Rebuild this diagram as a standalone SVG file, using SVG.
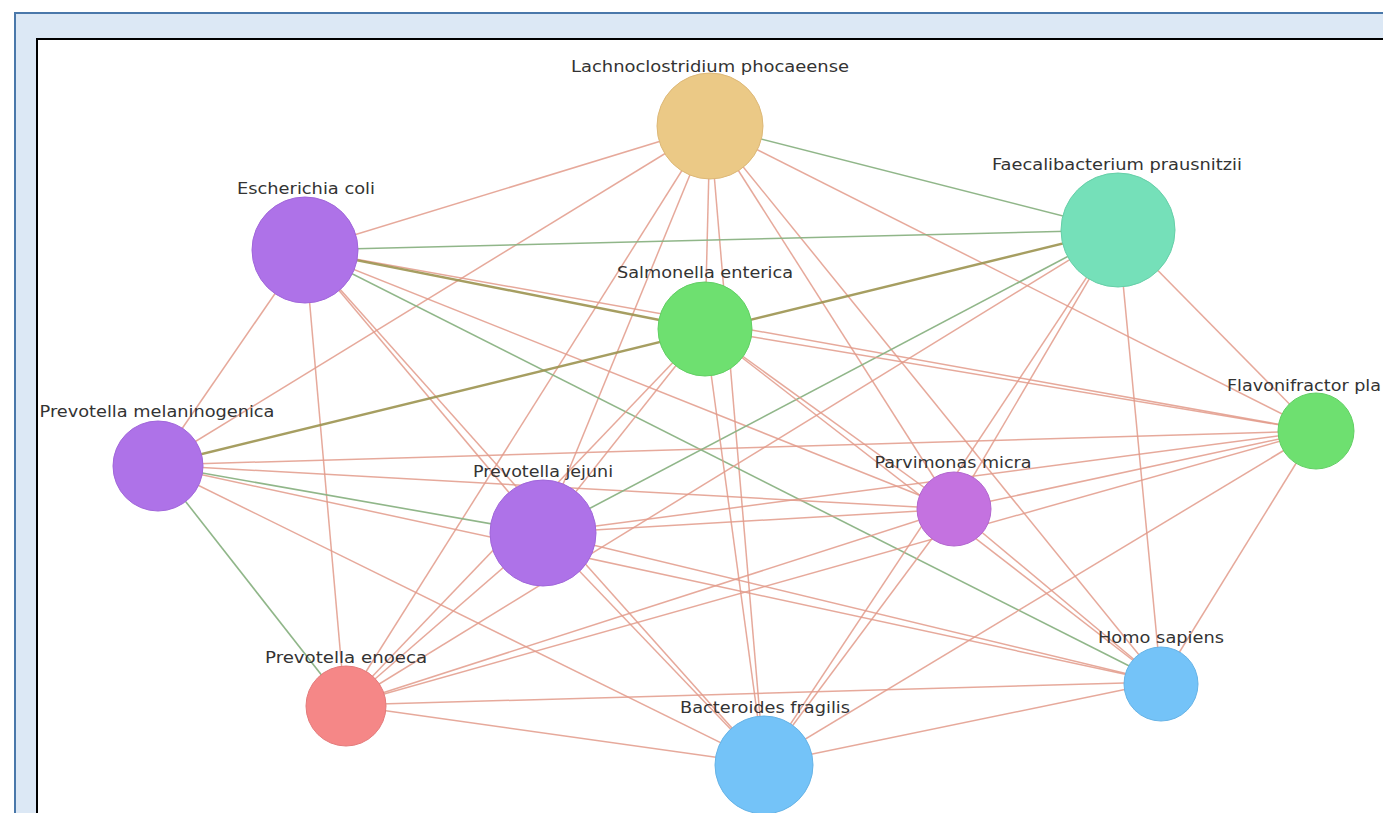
<svg xmlns="http://www.w3.org/2000/svg" width="1383" height="813" viewBox="0 0 1383 813">
  <style>
    .frame { fill: #DCE8F5; stroke: #4A78AA; stroke-width: 2; }
    .panel { fill: #FFFFFF; stroke: #000000; stroke-width: 2; }
    .e { stroke: #E29A8A; stroke-width: 1.5; stroke-opacity: 0.85; fill: none; }
    .g { stroke: #8AB283; stroke-width: 1.6; stroke-opacity: 0.95; fill: none; }
    .o { stroke: #9C9450; stroke-width: 2.4; stroke-opacity: 0.9; fill: none; }
    .lbl { font-family: "DejaVu Sans", Verdana, sans-serif; font-size: 16px; fill: #333333; text-anchor: middle; }
    .purple { fill: #AE72E8; stroke: #A066DA; stroke-width: 1; }
    .green { fill: #6EE070; stroke: #62CF64; stroke-width: 1; }
    .blue { fill: #74C3F8; stroke: #66B3E6; stroke-width: 1; }
  </style>

  <!-- outer frame and drawing panel -->
  <rect class="frame" x="15" y="13" width="1400" height="850"/>
  <rect class="panel" x="37" y="39" width="1380" height="820"/>

  <!-- connectors: straight edges between node centres -->
  <g id="edges">
    <!-- Lachnoclostridium phocaeense -->
    <line class="e" x1="710" y1="126" x2="305" y2="250"/>
    <line class="e" x1="710" y1="126" x2="157" y2="465"/>
    <line class="e" x1="710" y1="126" x2="345" y2="705"/>
    <line class="e" x1="710" y1="126" x2="543" y2="533"/>
    <line class="e" x1="710" y1="126" x2="705" y2="329"/>
    <line class="e" x1="710" y1="126" x2="764" y2="764"/>
    <line class="e" x1="710" y1="126" x2="954" y2="509"/>
    <line class="e" x1="710" y1="126" x2="1161" y2="682"/>
    <line class="e" x1="710" y1="126" x2="1316" y2="431"/>
    <line class="g" x1="710" y1="126" x2="1118" y2="230"/>
    <!-- Escherichia coli -->
    <line class="g" x1="305" y1="250" x2="1118" y2="230"/>
    <line class="e" x1="305" y1="250" x2="1316" y2="431"/>
    <line class="o" x1="305" y1="250" x2="705" y2="329"/>
    <line class="g" x1="305" y1="250" x2="1161" y2="682"/>
    <line class="e" x1="305" y1="250" x2="954" y2="509"/>
    <line class="e" x1="305" y1="250" x2="543" y2="533"/>
    <line class="e" x1="305" y1="250" x2="345" y2="705"/>
    <line class="e" x1="305" y1="250" x2="157" y2="465"/>
    <line class="e" x1="305" y1="250" x2="764" y2="764"/>
    <!-- Prevotella melaninogenica -->
    <line class="o" x1="157" y1="465" x2="1118" y2="230"/>
    <line class="e" x1="157" y1="465" x2="1316" y2="431"/>
    <line class="e" x1="157" y1="465" x2="954" y2="509"/>
    <line class="g" x1="157" y1="465" x2="543" y2="533"/>
    <line class="e" x1="157" y1="465" x2="1161" y2="682"/>
    <line class="e" x1="157" y1="465" x2="764" y2="764"/>
    <line class="g" x1="157" y1="465" x2="345" y2="705"/>
    <!-- Prevotella jejuni -->
    <line class="e" x1="543" y1="533" x2="705" y2="329"/>
    <line class="g" x1="543" y1="533" x2="1118" y2="230"/>
    <line class="e" x1="543" y1="533" x2="1316" y2="431"/>
    <line class="e" x1="543" y1="533" x2="954" y2="509"/>
    <line class="e" x1="543" y1="533" x2="1161" y2="682"/>
    <line class="e" x1="543" y1="533" x2="764" y2="764"/>
    <line class="e" x1="543" y1="533" x2="345" y2="705"/>
    <!-- Prevotella enoeca -->
    <line class="e" x1="345" y1="705" x2="705" y2="329"/>
    <line class="e" x1="345" y1="705" x2="1118" y2="230"/>
    <line class="e" x1="345" y1="705" x2="954" y2="509"/>
    <line class="e" x1="345" y1="705" x2="1316" y2="431"/>
    <line class="e" x1="345" y1="705" x2="1161" y2="682"/>
    <line class="e" x1="345" y1="705" x2="764" y2="764"/>
    <!-- Faecalibacterium prausnitzii -->
    <line class="e" x1="1118" y1="230" x2="954" y2="509"/>
    <line class="e" x1="1118" y1="230" x2="1161" y2="682"/>
    <line class="e" x1="1118" y1="230" x2="1316" y2="431"/>
    <line class="e" x1="1118" y1="230" x2="764" y2="764"/>
    <!-- Salmonella enterica -->
    <line class="e" x1="705" y1="329" x2="764" y2="764"/>
    <line class="e" x1="705" y1="329" x2="954" y2="509"/>
    <line class="e" x1="705" y1="329" x2="1161" y2="682"/>
    <line class="e" x1="705" y1="329" x2="1316" y2="431"/>
    <!-- Parvimonas micra -->
    <line class="e" x1="954" y1="509" x2="1161" y2="682"/>
    <line class="e" x1="954" y1="509" x2="764" y2="764"/>
    <line class="e" x1="954" y1="509" x2="1316" y2="431"/>
    <!-- remaining -->
    <line class="e" x1="1161" y1="682" x2="1316" y2="431"/>
    <line class="e" x1="764" y1="764" x2="1316" y2="431"/>
    <line class="e" x1="764" y1="764" x2="1161" y2="682"/>
  </g>

  <!-- nodes -->
  <g id="node-lachnoclostridium">
    <circle cx="710" cy="126" r="53" fill="#EBC986" stroke="#DDB877" stroke-width="1"/>
    <text class="lbl" x="710" y="72" textLength="278" lengthAdjust="spacingAndGlyphs">Lachnoclostridium phocaeense</text>
  </g>
  <g id="node-escherichia">
    <circle class="purple" cx="305" cy="250" r="53"/>
    <text class="lbl" x="306" y="194" textLength="138" lengthAdjust="spacingAndGlyphs">Escherichia coli</text>
  </g>
  <g id="node-faecalibacterium">
    <circle cx="1118" cy="230" r="57" fill="#75E0B9" stroke="#66CFA8" stroke-width="1"/>
    <text class="lbl" x="1117" y="170" textLength="250" lengthAdjust="spacingAndGlyphs">Faecalibacterium prausnitzii</text>
  </g>
  <g id="node-salmonella">
    <circle class="green" cx="705" cy="329" r="47"/>
    <text class="lbl" x="705" y="278" textLength="176" lengthAdjust="spacingAndGlyphs">Salmonella enterica</text>
  </g>
  <g id="node-flavonifractor">
    <circle class="green" cx="1316" cy="431" r="38"/>
    <text class="lbl" x="1227" y="391" style="text-anchor:start" textLength="154" lengthAdjust="spacingAndGlyphs">Flavonifractor pla</text>
  </g>
  <g id="node-prevotella-melaninogenica">
    <circle class="purple" cx="158" cy="466" r="45"/>
    <text class="lbl" x="157" y="417" textLength="235" lengthAdjust="spacingAndGlyphs">Prevotella melaninogenica</text>
  </g>
  <g id="node-prevotella-jejuni">
    <circle class="purple" cx="543" cy="533" r="53"/>
    <text class="lbl" x="543" y="477" textLength="140" lengthAdjust="spacingAndGlyphs">Prevotella jejuni</text>
  </g>
  <g id="node-parvimonas">
    <circle cx="954" cy="509" r="37" fill="#C472E0" stroke="#B266CF" stroke-width="1"/>
    <text class="lbl" x="953" y="468" textLength="157" lengthAdjust="spacingAndGlyphs">Parvimonas micra</text>
  </g>
  <g id="node-prevotella-enoeca">
    <circle cx="346" cy="706" r="40" fill="#F58787" stroke="#E47A7A" stroke-width="1"/>
    <text class="lbl" x="346" y="663" textLength="162" lengthAdjust="spacingAndGlyphs">Prevotella enoeca</text>
  </g>
  <g id="node-bacteroides">
    <circle class="blue" cx="764" cy="765" r="49"/>
    <text class="lbl" x="765" y="713" textLength="170" lengthAdjust="spacingAndGlyphs">Bacteroides fragilis</text>
  </g>
  <g id="node-homo">
    <circle class="blue" cx="1161" cy="684" r="37"/>
    <text class="lbl" x="1161" y="643" textLength="126" lengthAdjust="spacingAndGlyphs">Homo sapiens</text>
  </g>
</svg>
